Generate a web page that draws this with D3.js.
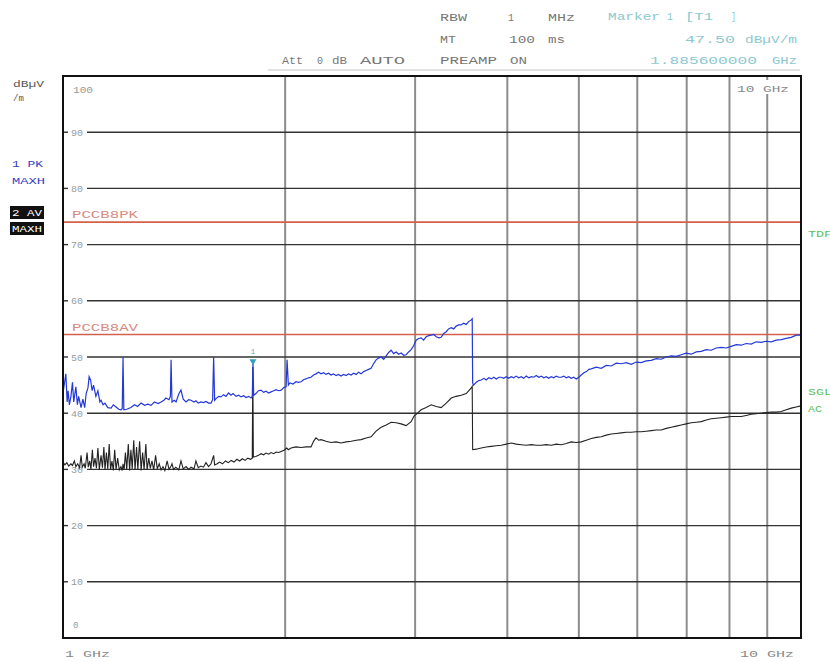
<!DOCTYPE html>
<html><head><meta charset="utf-8">
<script src="https://cdn.jsdelivr.net/npm/d3@7"></script>
<style>
body{margin:0;background:#fff}
text{font-family:"Liberation Mono","DejaVu Sans Mono",monospace}
</style>
</head><body>
<svg id="c" width="830" height="662"></svg>
<script>
// ---- data: [frequency GHz, level dBµV/m] ----
const pkTrace = [
[1.000,43.5],[1.005,45.5],[1.009,47.0],[1.013,42.0],[1.016,44.0],[1.020,41.5],[1.025,43.0],[1.030,45.5],[1.034,42.0],[1.041,44.7],
[1.046,41.5],[1.050,43.0],[1.058,41.0],[1.064,42.5],[1.070,41.0],[1.075,43.5],[1.081,44.5],[1.085,46.5],[1.090,45.9],[1.095,44.0],
[1.100,45.0],[1.108,43.0],[1.115,44.0],[1.122,42.0],[1.126,42.3],[1.133,41.5],[1.140,41.8],[1.150,41.0],[1.162,40.9],[1.170,41.5],
[1.180,41.1],[1.190,40.7],[1.198,40.6],[1.203,40.8],[1.206,50.0],[1.209,40.6],[1.220,40.7],[1.236,41.0],[1.250,41.5],[1.262,41.2],
[1.276,41.8],[1.290,41.4],[1.303,41.6],[1.316,41.4],[1.330,42.0],[1.345,41.7],[1.358,42.0],[1.370,42.3],[1.379,42.7],[1.392,42.4],
[1.398,43.0],[1.401,49.5],[1.405,42.0],[1.415,42.3],[1.423,42.0],[1.436,43.5],[1.445,44.1],[1.455,42.5],[1.468,42.0],[1.480,42.4],
[1.491,42.3],[1.505,42.0],[1.514,42.2],[1.525,41.8],[1.538,42.0],[1.550,41.9],[1.562,42.1],[1.575,41.8],[1.587,41.8],[1.595,42.4],
[1.600,50.0],[1.605,42.3],[1.612,42.6],[1.625,43.0],[1.637,42.9],[1.650,43.3],[1.663,43.0],[1.676,43.6],[1.689,43.2],[1.700,43.5],
[1.716,43.0],[1.730,43.2],[1.743,42.9],[1.757,43.1],[1.770,42.8],[1.785,43.0],[1.798,42.7],[1.805,43.0],[1.809,48.9],[1.813,43.2],
[1.826,43.5],[1.840,44.0],[1.855,44.1],[1.870,43.7],[1.884,43.9],[1.900,43.6],[1.914,43.8],[1.930,44.0],[1.944,44.2],[1.960,44.0],
[1.975,44.1],[1.993,44.6],[2.006,44.7],[2.012,49.5],[2.020,45.0],[2.030,45.4],[2.050,45.2],[2.069,45.6],[2.085,45.5],[2.102,45.6],
[2.120,46.0],[2.135,46.1],[2.150,46.3],[2.168,46.4],[2.185,46.8],[2.202,47.0],[2.220,47.3],[2.237,47.0],[2.255,47.2],[2.272,46.9],
[2.290,47.1],[2.308,46.8],[2.325,47.0],[2.344,46.7],[2.362,46.9],[2.381,46.6],[2.400,46.9],[2.419,46.7],[2.437,47.0],[2.457,46.8],
[2.476,47.1],[2.496,46.9],[2.515,47.3],[2.535,47.0],[2.555,47.4],[2.575,47.6],[2.595,47.8],[2.615,48.0],[2.635,48.8],[2.656,49.5],
[2.677,49.8],[2.698,50.0],[2.720,49.6],[2.741,50.2],[2.762,50.8],[2.784,51.2],[2.805,50.6],[2.828,50.9],[2.850,50.5],[2.872,50.7],
[2.895,50.3],[2.917,50.4],[2.940,50.9],[2.963,51.3],[2.986,52.0],[3.010,53.0],[3.033,53.3],[3.057,53.4],[3.080,53.0],[3.105,53.6],
[3.130,53.8],[3.154,53.9],[3.180,54.0],[3.204,53.6],[3.230,53.4],[3.254,53.5],[3.280,54.2],[3.306,54.5],[3.330,55.0],[3.358,55.2],
[3.384,55.0],[3.410,55.5],[3.437,55.7],[3.464,55.7],[3.490,56.0],[3.519,55.8],[3.545,56.3],[3.574,56.6],[3.585,56.8],[3.590,45.4],
[3.600,45.0],[3.630,45.5],[3.660,45.8],[3.687,45.9],[3.720,46.2],[3.745,45.9],[3.775,46.3],[3.804,46.1],[3.835,46.4],[3.865,46.1],
[3.895,46.4],[3.925,46.4],[3.955,46.2],[3.987,46.5],[4.017,46.2],[4.049,46.5],[4.080,46.3],[4.112,46.6],[4.145,46.3],[4.178,46.5],
[4.210,46.2],[4.243,46.6],[4.277,46.3],[4.310,46.5],[4.345,46.4],[4.378,46.7],[4.412,46.4],[4.447,46.6],[4.482,46.3],[4.517,46.5],
[4.552,46.2],[4.588,46.5],[4.624,46.3],[4.660,46.6],[4.697,46.4],[4.733,46.4],[4.770,46.6],[4.808,46.3],[4.845,46.5],[4.883,46.2],
[4.920,46.4],[4.960,46.1],[5.000,46.4],[5.038,46.8],[5.080,47.2],[5.120,47.4],[5.160,47.8],[5.197,47.9],[5.280,48.2],[5.362,48.0],
[5.446,48.5],[5.532,48.4],[5.619,48.9],[5.707,48.8],[5.797,49.0],[5.888,48.7],[5.981,49.1],[6.075,49.0],[6.170,49.3],[6.267,49.4],
[6.366,49.7],[6.466,49.6],[6.568,50.0],[6.671,50.2],[6.776,50.1],[6.882,50.4],[6.990,50.7],[7.100,50.5],[7.212,50.9],[7.325,51.0],
[7.440,51.3],[7.557,51.2],[7.676,51.6],[7.797,51.7],[7.919,51.6],[8.044,51.9],[8.170,52.2],[8.299,52.1],[8.429,52.4],[8.562,52.3],
[8.696,52.7],[8.833,52.6],[8.971,52.8],[9.113,52.7],[9.256,53.0],[9.402,53.1],[9.549,53.3],[9.700,53.5],[9.852,53.9],[10.000,53.9]
];
const avTrace = [
[1.000,31.3],[1.006,30.8],[1.012,31.2],[1.018,30.6],[1.025,31.0],[1.030,30.7],[1.036,31.5],[1.041,30.5],[1.047,31.0],[1.053,30.3],
[1.058,32.5],[1.062,30.4],[1.068,31.0],[1.072,30.2],[1.078,33.0],[1.082,30.4],[1.087,31.5],[1.091,30.0],[1.096,33.5],[1.100,30.5],
[1.105,32.0],[1.110,30.2],[1.115,33.8],[1.120,30.0],[1.126,32.5],[1.131,30.3],[1.136,34.0],[1.140,29.9],[1.145,33.0],[1.150,30.1],
[1.155,34.5],[1.160,30.0],[1.165,31.5],[1.170,29.8],[1.175,33.5],[1.180,30.0],[1.186,32.0],[1.192,29.9],[1.198,30.5],[1.203,29.8],
[1.206,31.0],[1.210,29.9],[1.215,33.0],[1.220,30.0],[1.226,34.5],[1.231,29.8],[1.236,33.5],[1.241,30.1],[1.247,35.2],[1.252,29.9],
[1.258,34.0],[1.263,30.0],[1.270,35.0],[1.276,29.8],[1.282,33.0],[1.288,30.0],[1.295,34.5],[1.300,29.9],[1.307,32.0],[1.313,30.2],
[1.320,31.5],[1.327,29.9],[1.335,32.5],[1.342,30.1],[1.350,31.0],[1.358,29.9],[1.366,30.5],[1.374,29.8],[1.384,31.5],[1.392,30.0],
[1.400,30.5],[1.405,31.0],[1.412,30.0],[1.422,30.4],[1.435,29.9],[1.445,31.5],[1.455,30.1],[1.468,30.5],[1.480,30.0],[1.491,30.4],
[1.505,30.1],[1.514,31.5],[1.525,30.3],[1.538,30.6],[1.550,30.4],[1.562,31.2],[1.575,30.5],[1.587,31.0],[1.600,32.5],[1.605,30.8],
[1.618,31.0],[1.630,31.3],[1.645,31.0],[1.660,31.5],[1.675,31.2],[1.690,31.6],[1.705,31.3],[1.720,31.8],[1.735,31.5],[1.750,31.9],
[1.765,31.6],[1.780,32.0],[1.795,31.8],[1.805,32.0],[1.808,48.2],[1.811,32.2],[1.825,32.3],[1.840,32.5],[1.855,32.8],[1.870,32.6],
[1.884,32.9],[1.900,32.7],[1.914,33.0],[1.930,32.8],[1.944,33.1],[1.960,33.0],[1.975,33.2],[1.993,33.4],[2.010,33.8],[2.020,33.5],
[2.037,33.8],[2.069,34.0],[2.102,33.9],[2.135,34.0],[2.168,34.0],[2.185,35.0],[2.202,35.6],[2.220,35.2],[2.237,35.3],[2.272,35.0],
[2.308,34.8],[2.344,34.9],[2.381,34.7],[2.419,34.9],[2.457,35.0],[2.496,35.2],[2.535,35.3],[2.575,35.6],[2.615,35.8],[2.656,36.8],
[2.698,37.5],[2.741,37.9],[2.784,38.4],[2.828,38.3],[2.872,38.1],[2.917,37.8],[2.963,38.5],[2.990,39.5],[3.010,39.8],[3.057,40.6],
[3.105,41.0],[3.154,41.5],[3.204,41.2],[3.254,41.0],[3.306,41.8],[3.358,42.7],[3.410,43.0],[3.464,43.2],[3.519,43.5],[3.574,44.5],
[3.585,44.8],[3.590,33.5],[3.630,33.6],[3.687,33.8],[3.745,34.0],[3.804,34.1],[3.865,34.2],[3.925,34.3],[3.987,34.5],[4.049,34.7],
[4.112,34.5],[4.178,34.4],[4.243,34.3],[4.310,34.4],[4.378,34.3],[4.447,34.3],[4.517,34.4],[4.588,34.3],[4.660,34.5],[4.733,34.4],
[4.808,34.6],[4.883,34.9],[4.960,34.8],[5.038,34.9],[5.117,35.2],[5.197,35.5],[5.280,35.7],[5.362,35.8],[5.446,36.1],[5.532,36.3],
[5.619,36.4],[5.707,36.5],[5.797,36.6],[5.888,36.6],[5.981,36.7],[6.075,36.7],[6.170,36.8],[6.267,36.9],[6.366,37.0],[6.466,37.0],
[6.568,37.3],[6.671,37.5],[6.776,37.7],[6.882,37.9],[6.990,38.1],[7.100,38.3],[7.212,38.4],[7.325,38.5],[7.440,38.8],[7.557,39.0],
[7.676,39.1],[7.797,39.2],[7.919,39.3],[8.044,39.4],[8.170,39.4],[8.299,39.4],[8.429,39.6],[8.562,39.8],[8.696,39.9],[8.833,40.0],
[8.971,40.1],[9.113,40.2],[9.256,40.2],[9.402,40.3],[9.549,40.6],[9.700,40.9],[9.852,41.1],[10.000,41.3]
];

const yTicks = [90,80,70,60,50,40,30,20,10];
const xGrid = [2,3,4,5,6,7,8,9];
const limitNames = ["PCCB8PK","PCCB8AV"];
const limitValues = [74,54];
const markerFreq = 1.809, markerLevel = 48.9;

// ---- drawing ----
const svg = d3.select("#c");
const L=63,R=801,T=76,B=638;
const x = d3.scaleLog().domain([1,10]).range([L,R]);
const y = d3.scaleLinear().domain([0,100]).range([B,T]);

// header separator
svg.append("line").attr("x1",268).attr("x2",800).attr("y1",70).attr("y2",70).attr("stroke","#d8d8d8").attr("stroke-width",1.5);

// header texts
const hdr = [
 ["RBW",440,21,27,"#777"],["1",508,21,6,"#777"],["MHz",548,21,27,"#777"],
 ["MT",440,43,16,"#777"],["100",509,43,26,"#777"],["ms",548,43,17,"#777"],
 ["Att",282,64,21,"#777"],["0",317,64,6,"#777"],["dB",332,64,15,"#777"],["AUTO",360,64,45,"#777"],
 ["PREAMP",440,64,57,"#777"],["ON",510,64,17,"#777"],
 ["Marker",608,20,52,"#8cc8d0"],["1",667,20,6,"#8cc8d0"],["[T1",685,20,28,"#8cc8d0"],["]",731,20,5,"#8cc8d0"],
 ["47.50",685,43,50,"#8cc8d0"],["dBµV/m",745,43,52,"#8cc8d0"],
 ["1.885600000",650,64,107,"#8cc8d0"],["GHz",772,64,25,"#8cc8d0"]
];
hdr.forEach(h=>{
  svg.append("text").attr("x",h[1]).attr("y",h[2]).attr("font-size",10)
   .attr("textLength",h[3]).attr("lengthAdjust","spacingAndGlyphs").attr("fill",h[4]).text(h[0]);
});

// left labels
svg.append("text").attr("x",13).attr("y",87).attr("font-size",9).attr("fill","#555").attr("textLength",31).attr("lengthAdjust","spacingAndGlyphs").text("dBµV");
svg.append("text").attr("x",13).attr("y",101).attr("font-size",9).attr("fill","#555").text("/m");
svg.append("text").attr("x",12).attr("y",167).attr("font-size",9).attr("fill","#3040c8").attr("textLength",31).attr("lengthAdjust","spacingAndGlyphs").text("1 PK");
svg.append("text").attr("x",12).attr("y",184).attr("font-size",9).attr("fill","#3040c8").attr("textLength",33).attr("lengthAdjust","spacingAndGlyphs").text("MAXH");
svg.append("rect").attr("x",10).attr("y",206).attr("width",34).attr("height",13).attr("fill","#111");
svg.append("rect").attr("x",10).attr("y",222).attr("width",34).attr("height",13).attr("fill","#111");
svg.append("text").attr("x",12).attr("y",216).attr("font-size",9).attr("fill","#fff").attr("textLength",30).attr("lengthAdjust","spacingAndGlyphs").text("2 AV");
svg.append("text").attr("x",12).attr("y",232).attr("font-size",9).attr("fill","#fff").attr("textLength",30).attr("lengthAdjust","spacingAndGlyphs").text("MAXH");

// right green labels
[["TDF",808,237,24],["SGL",808,395,24],["AC",808,412,14]].forEach(t=>{
  svg.append("text").attr("x",t[1]).attr("y",t[2]).attr("font-size",9).attr("fill","#5cbf5c")
    .attr("textLength",t[3]).attr("lengthAdjust","spacingAndGlyphs").text(t[0]);
});

// vertical grid
svg.append("g").selectAll("line").data(xGrid).join("line")
  .attr("x1",d=>x(d)).attr("x2",d=>x(d)).attr("y1",T).attr("y2",B)
  .attr("stroke","#8c8c8c").attr("stroke-width",2);

// horizontal grid with labels
const hg = svg.append("g");
yTicks.forEach(v=>{
  const yy=y(v);
  hg.append("line").attr("x1",L).attr("x2",68).attr("y1",yy).attr("y2",yy).attr("stroke","#333").attr("stroke-width",1.4);
  hg.append("line").attr("x1",87).attr("x2",R).attr("y1",yy).attr("y2",yy).attr("stroke","#333").attr("stroke-width",1.4);
  hg.append("text").attr("x",71).attr("y",yy+3.5).attr("font-size",9).attr("fill","#999").attr("textLength",12).attr("lengthAdjust","spacingAndGlyphs").text(v);
});
svg.append("text").attr("x",73).attr("y",y(100)+17).attr("font-size",9).attr("fill","#999").attr("textLength",20).attr("lengthAdjust","spacingAndGlyphs").text("100");
svg.append("text").attr("x",73).attr("y",y(0)-10).attr("font-size",9).attr("fill","#999").text("0");

// limit lines
limitValues.forEach((v,i)=>{
  svg.append("line").attr("x1",L).attr("x2",R).attr("y1",y(v)).attr("y2",y(v)).attr("stroke","#d4604c").attr("stroke-width",1.6);
  svg.append("text").attr("x",72).attr("y",y(v)-4).attr("font-size",10).attr("fill","#d88a80").attr("textLength",66).attr("lengthAdjust","spacingAndGlyphs").text(limitNames[i]);
});

// top-right "10 GHz" box
svg.append("rect").attr("x",733).attr("y",80).attr("width",60).attr("height",14).attr("fill","#fff");
svg.append("text").attr("x",737).attr("y",92).attr("font-size",9).attr("fill","#888").attr("textLength",52).attr("lengthAdjust","spacingAndGlyphs").text("10 GHz");

// traces
const line = d3.line().x(d=>x(d[0])).y(d=>y(d[1]));
svg.append("path").datum(avTrace).attr("d",line).attr("fill","none").attr("stroke","#222").attr("stroke-width",1.1);
svg.append("path").datum(pkTrace).attr("d",line).attr("fill","none").attr("stroke","#2438d8").attr("stroke-width",1.2);

// marker
const mx=x(markerFreq), my=y(markerLevel);
svg.append("path").attr("d",`M${mx-3.5},${my-4}L${mx+3.5},${my-4}L${mx},${my+2}Z`).attr("fill","#30a0c0");
svg.append("text").attr("x",mx).attr("y",my-9).attr("font-size",8).attr("text-anchor","middle").attr("fill","#60b0c8").text("1");

// border
svg.append("rect").attr("x",L).attr("y",T).attr("width",R-L).attr("height",B-T).attr("fill","none").attr("stroke","#111").attr("stroke-width",2);

// bottom labels
svg.append("text").attr("x",65).attr("y",657).attr("font-size",9).attr("fill","#888").attr("textLength",45).attr("lengthAdjust","spacingAndGlyphs").text("1 GHz");
svg.append("text").attr("x",740).attr("y",657).attr("font-size",9).attr("fill","#888").attr("textLength",54).attr("lengthAdjust","spacingAndGlyphs").text("10 GHz");
</script>
</body></html>
